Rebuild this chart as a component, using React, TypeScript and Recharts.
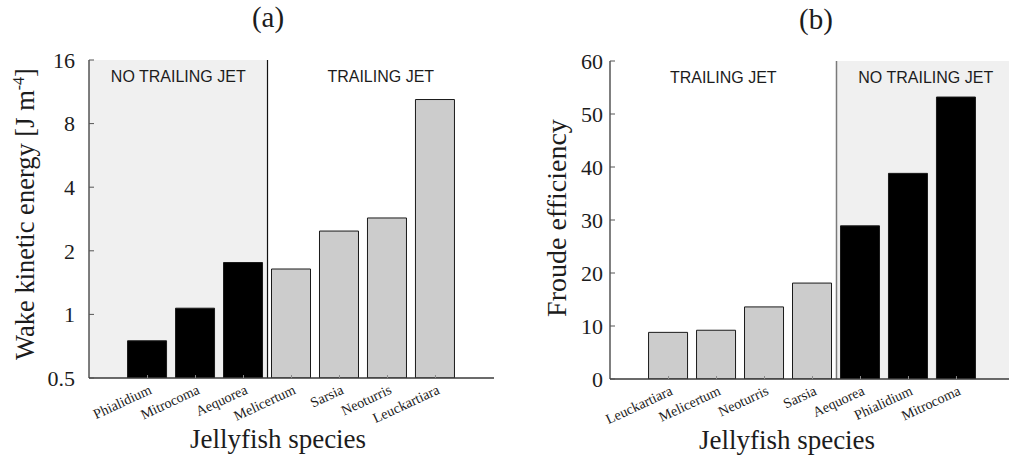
import React from "react";
import {
  Bar,
  BarChart,
  Cell,
  ReferenceArea,
  ReferenceLine,
  XAxis,
  YAxis,
} from "recharts";

// species order and values per panel
const speciesA = ["Phialidium", "Mitrocoma", "Aequorea", "Melicertum", "Sarsia", "Neoturris", "Leuckartiara"];
const energyA = [0.75, 1.07, 1.76, 1.64, 2.48, 2.86, 10.4];
const jetA = [false, false, false, true, true, true, true];

const speciesB = ["Leuckartiara", "Melicertum", "Neoturris", "Sarsia", "Aequorea", "Phialidium", "Mitrocoma"];
const froudeB = [8.8, 9.2, 13.6, 18.1, 28.9, 38.8, 53.2];
const jetB = [true, true, true, true, false, false, false];

const energyTicks = [0.5, 1, 2, 4, 8, 16];
const froudeTicks = [0, 10, 20, 30, 40, 50, 60];
const positions = [1, 2, 3, 4, 5, 6, 7];

const SERIF = "'Liberation Serif', 'DejaVu Serif', serif";
const SANS = "'Liberation Sans', Arial, sans-serif";
const INK = "#1c1c1c";
const SHADE = "#f0f0f0";
const JET_FILL = "#cccccc";
const NOJET_FILL = "#000000";

const X_DOMAIN: [number, number] = [-0.22, 8.22];
const margin = { top: 60, right: 6, bottom: 24, left: 29 };

function speciesTick(names: string[]) {
  return (props: any) => {
    const { x, y, payload } = props;
    const ax = x + 5;
    const ay = y;
    return (
      <text
        x={ax}
        y={ay}
        transform={`rotate(-25 ${ax} ${ay})`}
        textAnchor="end"
        fontFamily={SERIF}
        fontSize={14.2}
        fill={INK}
      >
        {names[payload.value - 1]}
      </text>
    );
  };
}

const zoneLabel = (value: string) => ({
  value,
  position: "insideTop" as const,
  offset: 11,
  fill: INK,
  fontSize: 16,
  fontFamily: SANS,
});

function EnergyPanel() {
  const data = speciesA.map((name, i) => ({ pos: positions[i], name, value: energyA[i], jet: jetA[i] }));
  return (
    <BarChart width={500} height={462} data={data} margin={margin}>
      <ReferenceArea x1={X_DOMAIN[0]} x2={3.5} fill={SHADE} fillOpacity={1} stroke="none" ifOverflow="hidden" label={zoneLabel("NO TRAILING JET")} />
      <ReferenceArea x1={3.5} x2={X_DOMAIN[1]} fill="#ffffff" fillOpacity={0} stroke="none" ifOverflow="hidden" label={zoneLabel("TRAILING JET")} />
      <XAxis
        type="number"
        dataKey="pos"
        domain={X_DOMAIN}
        allowDataOverflow
        ticks={positions}
        height={60}
        tickSize={-3}
        tickMargin={18}
        axisLine={{ stroke: "#3a3a3a", strokeWidth: 1.5 }}
        tickLine={{ stroke: "#8a8a8a" }}
        tick={speciesTick(speciesA)}
        interval={0}
      />
      <XAxis
        xAxisId="top"
        orientation="top"
        type="number"
        domain={X_DOMAIN}
        allowDataOverflow
        ticks={positions}
        height={0}
        tickSize={-3}
        axisLine={{ stroke: "#3a3a3a", strokeWidth: 1.5 }}
        tickLine={{ stroke: "#8a8a8a" }}
        tick={() => null}
      />
      <YAxis
        scale="log"
        domain={[0.5, 16]}
        allowDataOverflow
        ticks={energyTicks}
        width={60}
        tickSize={-5}
        tickMargin={19}
        axisLine={{ stroke: "#2a2a2a", strokeWidth: 1.2 }}
        tickLine={{ stroke: "#555" }}
        tick={{ fill: INK, fontSize: 22, fontFamily: SERIF }}
        interval={0}
      />
      <YAxis
        yAxisId="right"
        orientation="right"
        scale="log"
        domain={[0.5, 16]}
        allowDataOverflow
        ticks={energyTicks}
        width={0}
        tickSize={-5}
        axisLine={{ stroke: "#8c8c8c", strokeWidth: 1.5 }}
        tickLine={{ stroke: "#555" }}
        tick={() => null}
        interval={0}
      />
      <ReferenceLine x={3.5} stroke="#111" strokeWidth={1.2} ifOverflow="hidden" />
      <Bar dataKey="value" barSize={39} stroke="#1a1a1a" strokeWidth={1} isAnimationActive={false}>
        {data.map((d) => (
          <Cell key={d.name} fill={d.jet ? JET_FILL : NOJET_FILL} />
        ))}
      </Bar>
      <text x={268} y={27} textAnchor="middle" fontFamily={SERIF} fontSize={29} fill={INK}>
        (a)
      </text>
      <text x={278} y={448} textAnchor="middle" fontFamily={SERIF} fontSize={27} fill={INK}>
        Jellyfish species
      </text>
      <text
        x={34}
        y={214}
        transform="rotate(-90 34 214)"
        textAnchor="middle"
        fontFamily={SERIF}
        fontSize={26.5}
        fill={INK}
      >
        Wake kinetic energy [J m
        <tspan dy={-10} fontSize={16}>-4</tspan>
        <tspan dy={10}>]</tspan>
      </text>
    </BarChart>
  );
}

function FroudePanel() {
  const data = speciesB.map((name, i) => ({ pos: positions[i], name, value: froudeB[i], jet: jetB[i] }));
  return (
    <BarChart width={500} height={462} data={data} margin={margin}>
      <ReferenceArea x1={X_DOMAIN[0]} x2={4.5} fill="#ffffff" fillOpacity={0} stroke="none" ifOverflow="hidden" label={zoneLabel("TRAILING JET")} />
      <ReferenceArea x1={4.5} x2={X_DOMAIN[1]} fill={SHADE} fillOpacity={1} stroke="none" ifOverflow="hidden" label={zoneLabel("NO TRAILING JET")} />
      <XAxis
        type="number"
        dataKey="pos"
        domain={X_DOMAIN}
        allowDataOverflow
        ticks={positions}
        height={60}
        tickSize={-3}
        tickMargin={18}
        axisLine={{ stroke: "#3a3a3a", strokeWidth: 1.5 }}
        tickLine={{ stroke: "#8a8a8a" }}
        tick={speciesTick(speciesB)}
        interval={0}
      />
      <XAxis
        xAxisId="top"
        orientation="top"
        type="number"
        domain={X_DOMAIN}
        allowDataOverflow
        ticks={positions}
        height={0}
        tickSize={-3}
        axisLine={{ stroke: "#3a3a3a", strokeWidth: 1.5 }}
        tickLine={{ stroke: "#8a8a8a" }}
        tick={() => null}
      />
      <YAxis
        domain={[0, 60]}
        allowDataOverflow
        ticks={froudeTicks}
        width={60}
        tickSize={-5}
        tickMargin={12}
        axisLine={{ stroke: "#2a2a2a", strokeWidth: 1.2 }}
        tickLine={{ stroke: "#555" }}
        tick={{ fill: INK, fontSize: 22, fontFamily: SERIF }}
        interval={0}
      />
      <ReferenceLine x={4.5} stroke="#7a7a7a" strokeWidth={1.5} ifOverflow="hidden" />
      <Bar dataKey="value" barSize={39} stroke="#1a1a1a" strokeWidth={1} isAnimationActive={false}>
        {data.map((d) => (
          <Cell key={d.name} fill={d.jet ? JET_FILL : NOJET_FILL} />
        ))}
      </Bar>
      <text x={295} y={28} textAnchor="middle" fontFamily={SERIF} fontSize={29} fill={INK}>
        (b)
      </text>
      <text x={266} y={448} textAnchor="middle" fontFamily={SERIF} fontSize={27} fill={INK}>
        Jellyfish species
      </text>
      <text
        x={45}
        y={217}
        transform="rotate(-90 45 217)"
        textAnchor="middle"
        fontFamily={SERIF}
        fontSize={28}
        fill={INK}
      >
        Froude efficiency
      </text>
    </BarChart>
  );
}

export default function App() {
  return (
    <div
      style={{
        position: "absolute",
        left: 0,
        top: 0,
        width: 1009,
        height: 462,
        overflow: "hidden",
        background: "#ffffff",
      }}
    >
      <div style={{ position: "absolute", left: 0, top: 0 }}>
        <EnergyPanel />
      </div>
      <div style={{ position: "absolute", left: 521, top: 1 }}>
        <FroudePanel />
      </div>
    </div>
  );
}
